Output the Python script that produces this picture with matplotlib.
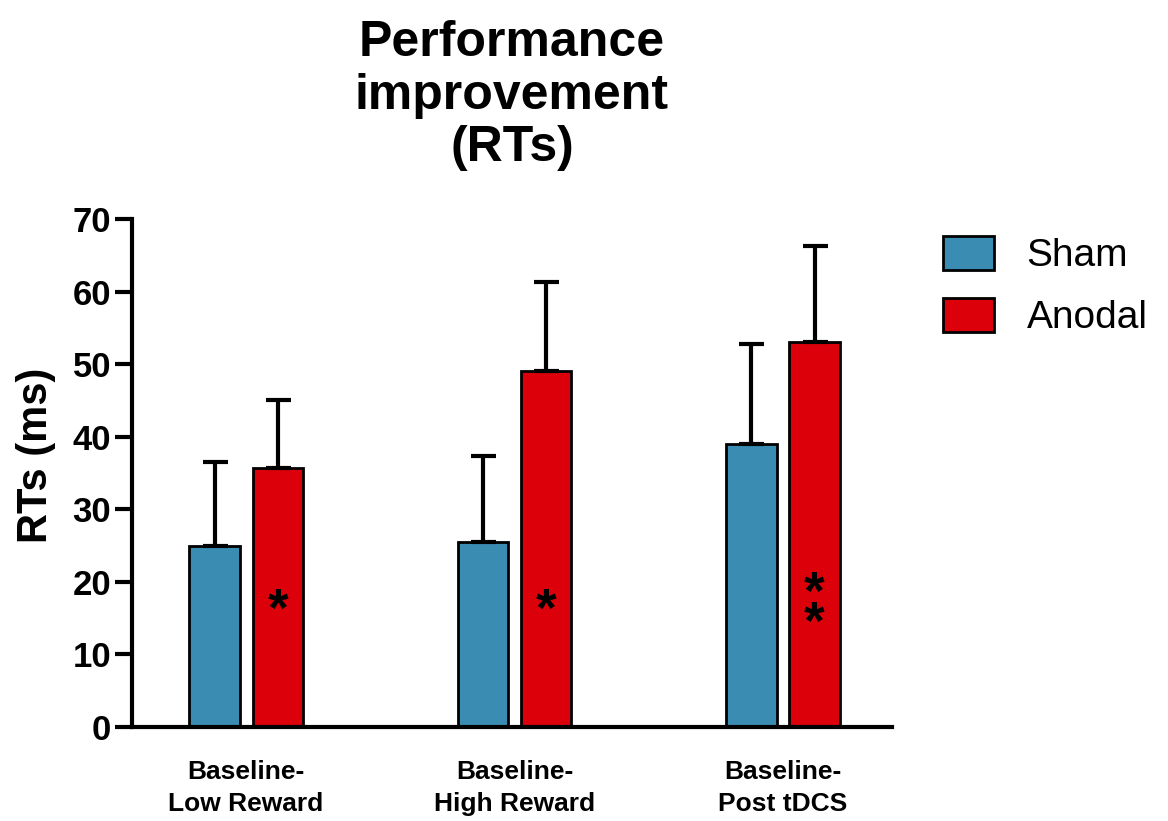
import matplotlib
matplotlib.use("Agg")
import matplotlib.pyplot as plt
from matplotlib.patches import Patch
import numpy as np

plt.rcParams['font.family'] = ['Liberation Sans', 'DejaVu Sans']

# Data
categories = ["Baseline-\nLow Reward", "Baseline-\nHigh Reward", "Baseline-\nPost tDCS"]
sham_mean = [25.0, 25.5, 39.0]
sham_err = [11.5, 11.8, 13.8]
anodal_mean = [35.7, 49.0, 53.0]
anodal_err = [9.3, 12.3, 13.3]
anodal_stars = ["*", "*", "*\n*"]
series_names = ["Sham", "Anodal"]

blue = "#3A8CB3"
red = "#DC000B"

fig = plt.figure(figsize=(11.68, 8.21), dpi=100)
ax = fig.add_axes([132 / 1168, 1 - 727 / 821, (892 - 132) / 1168, (727 - 219) / 821])

x = np.arange(len(categories))
off = 0.1175
w = 0.187

err_kw = dict(ecolor="black", elinewidth=3.0, capsize=9, capthick=3.0)
ax.bar(x - off, sham_mean, w, color=blue, edgecolor="black", linewidth=2.0,
       yerr=[np.zeros(3), sham_err], error_kw=err_kw, zorder=2)
ax.bar(x + off, anodal_mean, w, color=red, edgecolor="black", linewidth=2.0,
       yerr=[np.zeros(3), anodal_err], error_kw=err_kw, zorder=2)

# significance markers inside the Anodal bars
star_y = [15.9, 15.9, 16.1]
for xi, s, yv in zip(x, anodal_stars, star_y):
    ax.text(xi + off, yv, s, ha="center", va="center", fontsize=38,
            fontweight="bold", linespacing=0.5, color="black", zorder=3)

ax.set_xlim(-0.425, 2.406)
ax.set_ylim(0, 70)
ax.set_yticks(np.arange(0, 71, 10))
ax.set_xticks(x)
ax.set_xticklabels(categories, fontsize=19, fontweight="bold", linespacing=1.4)
ax.tick_params(axis="x", length=0, pad=24)
ax.tick_params(axis="y", length=12, width=3.0, labelsize=25, pad=3)
for lbl in ax.get_yticklabels():
    lbl.set_fontweight("bold")

for side in ("top", "right"):
    ax.spines[side].set_visible(False)
for side in ("left", "bottom"):
    ax.spines[side].set_linewidth(3.0)

ax.set_ylabel("RTs (ms)", fontsize=30, fontweight="bold")
ax.yaxis.set_label_coords(-0.100, 0.535)
ax.set_title("Performance\nimprovement\n(RTs)", fontsize=36, fontweight="bold",
             linespacing=1.17, pad=42)

handles = [Patch(facecolor=blue, edgecolor="black", linewidth=2.0),
           Patch(facecolor=red, edgecolor="black", linewidth=2.0)]
fig.legend(handles, series_names, loc="upper left",
           bbox_to_anchor=(943 / 1168, 1 - 236 / 821), frameon=False,
           fontsize=28, handlelength=1.3, handleheight=0.95,
           handletextpad=0.85, labelspacing=0.62, borderpad=0, borderaxespad=0)

fig.savefig("out.png", dpi=100)
